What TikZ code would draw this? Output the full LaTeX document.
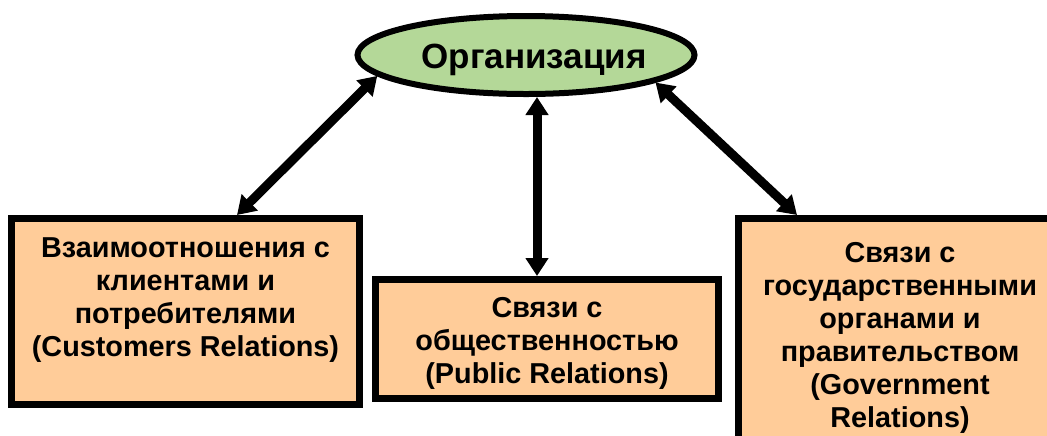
\documentclass[tikz,border=0pt]{standalone}
\usepackage{fontspec}
\setmainfont{Liberation Sans}
\usetikzlibrary{arrows.meta, shapes.geometric}

\definecolor{orggreen}{RGB}{180,216,152}
\definecolor{relpeach}{RGB}{255,204,153}

\tikzset{
  orgell/.style={ellipse, draw=black, line width=3pt, fill=orggreen, minimum width=168.5pt, minimum height=39pt, inner sep=0pt},
  orgtext/.style={font=\bfseries\fontsize{17.5}{21}\selectfont, inner sep=0pt, anchor=base},
  relbox/.style={rectangle, draw=black, line width=3.5pt, fill=relpeach, inner sep=0pt},
  reltext/.style={font=\bfseries\fontsize{14.4}{16.5}\selectfont, align=center, inner sep=0pt, anchor=north},
  dblarrow/.style={line width=4.5pt, {Triangle[length=9pt,width=11pt]}-{Triangle[length=9pt,width=11pt]}}
}

\begin{document}
\begin{tikzpicture}[x=0.5pt, y=-0.5pt]
\useasboundingbox (0,0) rectangle (1047,435);
\clip (0,0) rectangle (1047,435);

% organisation
\node[orgell] (org) at (526,55) {};
\node[orgtext] (orgname) at ([xshift=4pt,yshift=-6.5pt]org.center) {Организация};

% relation boxes
\node[relbox, minimum width=174pt, minimum height=93pt] (cust) at (185.5,311.5) {};
\node[reltext] (custtext) at ([yshift=-11pt]cust.north) {Взаимоотношения с\\клиентами и\\потребителями\\(Customers Relations)};

\node[relbox, minimum width=171.5pt, minimum height=59.5pt] (pub) at (547,339) {};
\node[reltext] (pubtext) at ([yshift=-10.5pt]pub.north) {Связи с\\общественностью\\(Public Relations)};

\node[relbox, minimum width=161.5pt, minimum height=113.5pt] (gov) at (900,332) {};
\node[reltext] (govtext) at ([yshift=-13.5pt]gov.north) {Связи с\\государственными\\органами и\\правительством\\(Government\\Relations)};

% connectors
\coordinate (pubtop) at ([xshift=-5pt]pub.north);
\draw[dblarrow] (org.188) -- ([xshift=25.75pt]cust.north);
\draw[dblarrow] (pubtop |- org.south) -- (pubtop);
\draw[dblarrow] (org.348) -- ([xshift=-51.5pt]gov.north);

\end{tikzpicture}
\end{document}
